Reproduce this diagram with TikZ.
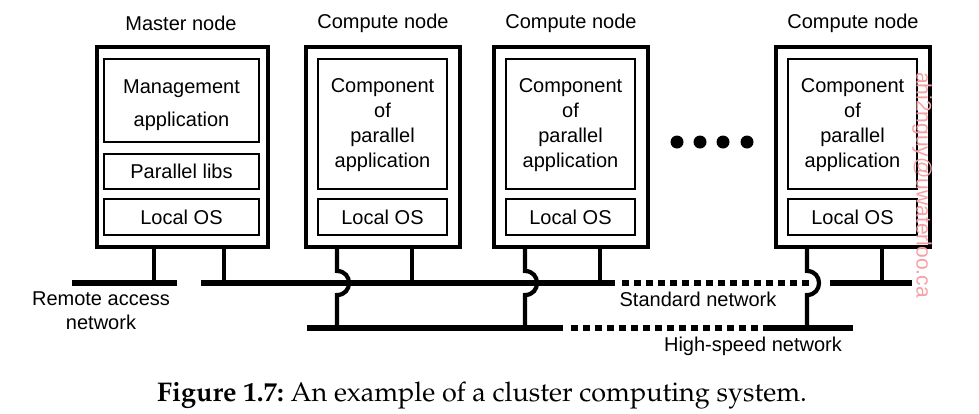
\documentclass[tikz,border=0pt]{standalone}
\usepackage[T1]{fontenc}
\usepackage{fontspec}
\setmainfont{Liberation Sans}
\usetikzlibrary{calc}
\definecolor{wmpink}{RGB}{245,160,165}
\begin{document}
\begin{tikzpicture}[x=1pt,y=-1pt,
  every node/.style={font=\fontsize{20}{25}\selectfont, inner sep=0pt},
  outerbox/.style={draw, line width=3.2pt, minimum width=#1, minimum height=200pt},
  innerbox/.style={draw, line width=1.1pt},
  tap/.style={line width=4.2pt},
  net/.style={line width=5.5pt},
  dnet/.style={line width=5.5pt, dash pattern=on 7pt off 5pt},
  lbl/.style={align=center}
]
\useasboundingbox (0,0) rectangle (979,413);

% Master node
\node[lbl] (mlab) at (181,23) {Master node};
\node[outerbox=171pt] (m) at (182.5,147) {};
\node[innerbox, minimum width=155pt, minimum height=83pt] (mapp) at (181.5,100.5) {};
\node[lbl, font=\fontsize{20}{32.5}\selectfont] (mapptxt) at (181.5,105) {Management\\application};
\node[innerbox, minimum width=155pt, minimum height=35pt] (mlib) at (181.5,171.5) {Parallel libs};
\node[innerbox, minimum width=155pt, minimum height=36pt] (mos) at (181.5,217) {Local OS};

% Compute nodes
\foreach \i/\d in {1/0,2/188,3/470}{
  \node[lbl] (c\i lab) at (383+\d,23) {Compute node};
  \node[outerbox=154pt] (c\i) at (383+\d,147) {};
  \node[innerbox, minimum width=129pt, minimum height=130pt] (c\i app) at (382.5+\d,124) {};
  \node[lbl] (c\i txt) at (382.5+\d,125.5) {Component\\of\\parallel\\application};
  \node[innerbox, minimum width=129pt, minimum height=36pt] (c\i os) at (382.5+\d,217) {Local OS};
}

% dots
\foreach \k/\x in {1/677,2/700,3/723,4/747}{
  \node[circle, fill, minimum size=13pt] (dot\k) at (\x,142) {};
}

% network coordinates
\coordinate (ra1) at (72,283);  \coordinate (ra2) at (177,283);
\coordinate (sn1) at (201,283); \coordinate (sn2) at (615,283);
\coordinate (sd1) at (622,283); \coordinate (sd2) at (809,283);
\coordinate (sn3) at (830,283); \coordinate (sn4) at (912,283);
\coordinate (hs1) at (307,328); \coordinate (hs2) at (563,328);
\coordinate (hd1) at (571,328); \coordinate (hd2) at (768,328);
\coordinate (hs3) at (768,328); \coordinate (hs4) at (853,328);

\draw[net] (ra1) -- (ra2);
\draw[net] (sn1) -- (sn2);
\draw[dnet] (sd1) -- (sd2);
\draw[net] (sn3) -- (sn4);
\draw[net] (hs1) -- (hs2);
\draw[dnet] (hd1) -- (hd2);
\draw[net] (hs3) -- (hs4);

% taps
\coordinate (tm1) at (154,283);
\coordinate (tm2) at (224,283);
\draw[tap] (tm1 |- m.south) -- (tm1);
\draw[tap] (tm2 |- m.south) -- (tm2);
\foreach \i/\d in {1/0,2/188,3/470}{
  \coordinate (j\i) at (337+\d,283);
  \coordinate (h\i) at (337+\d,328);
  \coordinate (s\i) at (412+\d,283);
  \draw[tap] (s\i |- c\i.south) -- (s\i);
  \draw[tap] (j\i |- c\i.south) -- ($(j\i)+(0,-12)$)
     .. controls +(16,0) and +(16,0) .. ($(j\i)+(0,12)$) -- (h\i);
}

% labels
\node[lbl] (ralab) at (101,311) {Remote access\\[-1pt]network};
\node (snlab) at (698,299) {Standard network};
\node (hslab) at (753,346) {High-speed network};

% watermark
\node[text=wmpink, rotate=-90, font=\fontsize{21}{21}\selectfont] (wm) at (922,185) {ahi2nguy@uwaterloo.ca};

% caption
\node (cap) at (482,396) {\fontsize{27}{30}\usefont{T1}{ppl}{b}{n}Figure 1.7:\usefont{T1}{ppl}{m}{n}\ An example of a cluster computing system.};
\end{tikzpicture}
\end{document}
